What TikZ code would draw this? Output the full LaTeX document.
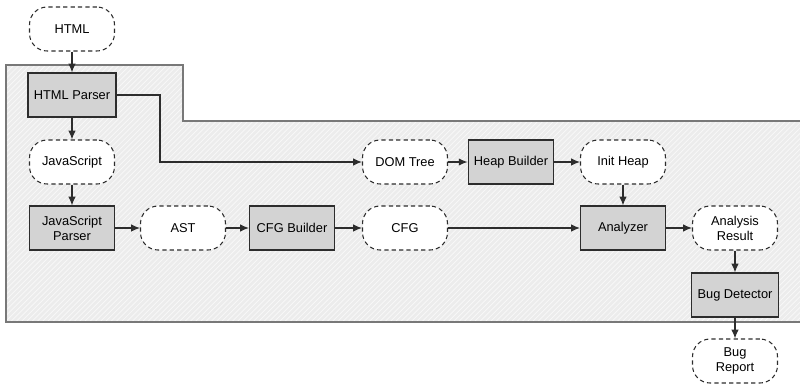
\documentclass[tikz,border=0pt]{standalone}
\usepackage{fontspec}
\setmainfont{Liberation Sans}
\usepackage{tikz}
\usetikzlibrary{
    arrows.meta,
    positioning,
    patterns
}
\definecolor{edgegray}{RGB}{45,45,45}
\definecolor{boxgray}{RGB}{211,211,211}
\definecolor{areagray}{RGB}{236,236,236}
\definecolor{areaedge}{RGB}{120,120,120}
\tikzset{
  stage/.style = {draw=edgegray, fill=boxgray, line width=0.6pt,
                  minimum width=1.7cm, minimum height=0.88cm,
                  align=center, font=\fontsize{7.3}{8.6}\selectfont},
  data/.style  = {draw=edgegray, fill=white, dashed, line width=0.6pt,
                  dash pattern=on 2.4pt off 1.8pt, rounded corners=10pt,
                  minimum width=1.7cm, minimum height=0.88cm,
                  align=center, font=\fontsize{7.3}{8.6}\selectfont}
}

\begin{document}
\begin{tikzpicture}[
  arr/.style={-{Latex[length=5pt,width=4.2pt]}, line width=0.6pt, edgegray},
  area/.style={fill=areagray},
  arealine/.style={draw=areaedge, line width=0.7pt}
]
\useasboundingbox (0,0) rectangle (16,7.7);

%% analysis area
\fill[area] (0.12,1.26) -- (0.12,6.40) -- (3.66,6.40) -- (3.66,5.28)
            -- (16,5.28) -- (16,1.26) -- cycle;
\fill[pattern=north east lines, pattern color=white!70!areagray]
            (0.12,1.26) -- (0.12,6.40) -- (3.66,6.40) -- (3.66,5.28)
            -- (16,5.28) -- (16,1.26) -- cycle;
\draw[arealine] (16,5.28) -- (3.66,5.28) -- (3.66,6.40) -- (0.12,6.40)
            -- (0.12,1.26) -- (16,1.26);

\node[data]  (html)    at (1.44, 7.12) {HTML};
\node[stage] (hparser) at (1.44, 5.80) {HTML Parser};
\node[data]  (js)      at (1.44, 4.46) {JavaScript};
\node[stage] (jsparser) at (1.44, 3.14) {JavaScript\\Parser};
\node[data]  (ast)     at (3.66, 3.14) {AST};
\node[stage] (cfgb)    at (5.84, 3.14) {CFG Builder};
\node[data]  (cfg)     at (8.10, 3.14) {CFG};
\node[data]  (dom)     at (8.10, 4.46) {DOM Tree};
\node[stage] (heapb)   at (10.22, 4.46) {Heap Builder};
\node[data]  (iheap)   at (12.46, 4.46) {Init Heap};
\node[stage] (anlz)    at (12.46, 3.14) {Analyzer};
\node[data]  (result)  at (14.70, 3.14) {Analysis\\Result};
\node[stage] (bugdet)  at (14.70, 1.80) {Bug Detector};
\node[data]  (report)  at (14.70, 0.48) {Bug\\Report};

\draw[arr] (html) -- (hparser);
\draw[arr] (hparser) -- (js);
\draw[arr] (js) -- (jsparser);
\draw[arr] (jsparser) -- (ast);
\draw[arr] (ast) -- (cfgb);
\draw[arr] (cfgb) -- (cfg);
\draw[arr] (cfg) -- (anlz);
\draw[arr] (dom) -- (heapb);
\draw[arr] (heapb) -- (iheap);
\draw[arr] (iheap) -- (anlz);
\draw[arr] (anlz) -- (result);
\draw[arr] (result) -- (bugdet);
\draw[arr] (bugdet) -- (report);

%% HTML parser feeds the DOM tree
\coordinate (turn) at (3.20, 5.80);
\draw[arr] (hparser.east) -- (turn) |- (dom.west);

\end{tikzpicture}
\end{document}
